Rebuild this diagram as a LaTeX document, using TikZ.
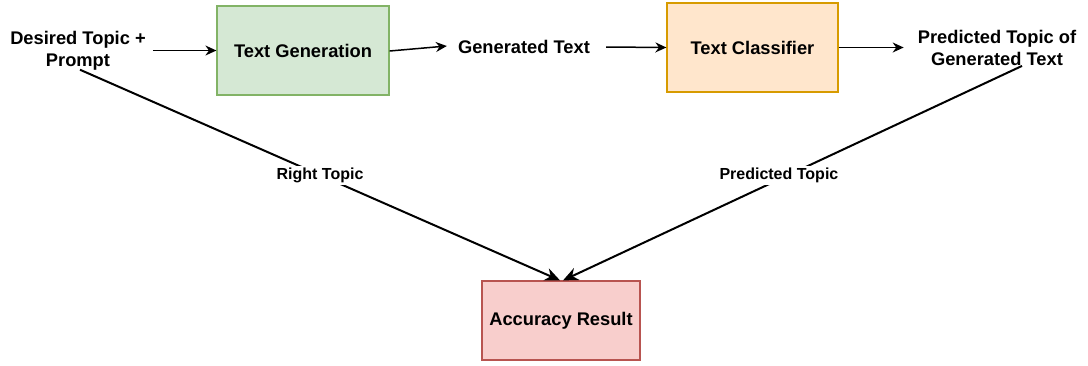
\documentclass[tikz,border=0pt]{standalone}
\usepackage{fontspec}
\setmainfont{Liberation Sans}
\usetikzlibrary{arrows.meta,calc}
\definecolor{gfill}{HTML}{D5E8D4}\definecolor{gdraw}{HTML}{82B366}
\definecolor{ofill}{HTML}{FFE6CC}\definecolor{odraw}{HTML}{D79B00}
\definecolor{rfill}{HTML}{F8CECC}\definecolor{rdraw}{HTML}{B85450}
\begin{document}
\begin{tikzpicture}[x=1pt,y=-1pt,
  txt/.style={font=\fontsize{18.3}{22}\selectfont\bfseries,align=center,inner sep=0pt},
  boxnode/.style={txt,draw,line width=1.2pt,minimum width=#1},
  lbl/.style={font=\fontsize{16}{18}\selectfont\bfseries,fill=white,inner sep=2pt},
  arr/.style={line width=1.5pt,-{Stealth[length=11pt,width=10pt]}},
  bigarr/.style={line width=2pt,-{Stealth[length=15pt,width=13pt]}}]
\useasboundingbox (0,0) rectangle (1088,365);
\node[txt] (des) at (78,51) {Desired Topic +\\Prompt};
\node[boxnode=172pt,minimum height=89pt,fill=gfill,draw=gdraw] (tg) at (303,50.5) {Text Generation};
\node[txt] (gt) at (524,47) {Generated Text};
\node[boxnode=171pt,minimum height=89pt,fill=ofill,draw=odraw] (tc) at (752.5,47.5) {Text Classifier};
\node[txt] (pred) at (997,48) {Predicted Topic of\\Generated Text};
\node[boxnode=158pt,minimum height=79pt,fill=rfill,draw=rdraw] (acc) at (561,320.5) {Accuracy Result};
\draw[arr] ([xshift=7pt]des.east |- tg.west) -- (tg.west);
\draw[arr] ([yshift=-0.5pt]tg.east) -- ([xshift=-11pt,yshift=1pt]gt.west);
\draw[arr] ([xshift=16pt]gt.east) -- (tc.west);
\draw[arr] (tc.east) -- ([xshift=-14pt]pred.west |- tc.east);
\draw[bigarr] ([xshift=2pt,yshift=1pt]des.south) -- node[lbl,pos=0.5]{Right Topic} ([xshift=-1pt]acc.north);
\draw[bigarr] ([xshift=25pt,yshift=0pt]pred.south) -- node[lbl,pos=0.51,xshift=-9pt]{Predicted Topic} ([xshift=2pt]acc.north);
\end{tikzpicture}
\end{document}
